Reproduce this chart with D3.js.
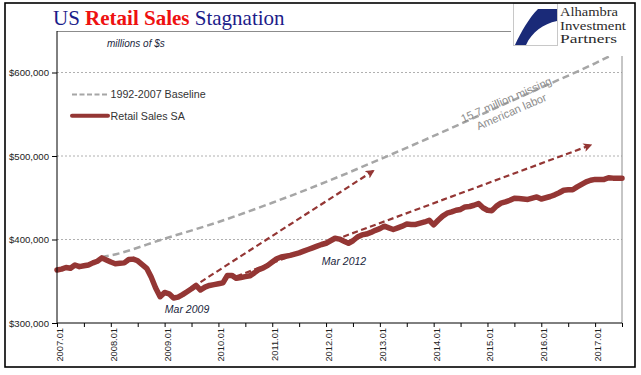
<!DOCTYPE html>
<html><head><meta charset="utf-8">
<script src="https://cdn.jsdelivr.net/npm/d3@7/dist/d3.min.js"></script>
<style>
html,body{margin:0;padding:0;background:#fff;}
svg{display:block;}
</style></head>
<body>
<svg id="chart" width="641" height="375"></svg>
<script>
// ---- data (millions of $) ----
const xTickLabels = ["2007.01","2008.01","2009.01","2010.01","2011.01","2012.01","2013.01","2014.01","2015.01","2016.01","2017.01"];
const yTickValues = [300000, 400000, 500000, 600000];
// Retail Sales SA, monthly Jan 2007 .. Jul 2017
const sales = [
  363500,364500,366500,365500,369500,367500,368500,369500,372000,374000,378000,375500,
  373000,371000,371500,372000,376000,376500,374500,370000,365500,355000,342000,331500,
  336500,335000,330000,331000,334000,337500,341000,345000,339500,343000,345000,346000,
  347000,348000,357000,357000,353500,354500,355500,356500,360000,364000,366000,369000,
  373000,377000,379000,380000,381000,382500,384000,386000,388000,390000,392000,394000,
  395500,398500,401500,400500,398000,395500,398500,403000,405500,406500,408500,411000,
  413000,416000,414000,412000,414000,416000,418500,418000,418000,419500,421000,423000,
  417500,423000,428000,431500,433000,435000,436000,439000,439500,441000,443000,438000,
  435000,434500,440000,443500,445000,447000,449500,449000,448500,448000,449500,451000,
  448500,450000,451500,453500,456000,459000,459500,459500,463000,466000,469000,471000,
  472000,472000,472000,474000,473500,473500,473500
];
// 1992-2007 baseline trend (month index from Jan 2007, value)
const baselineMonths = [10, 12, 24, 36, 48, 60, 72, 84, 96, 108, 120, 126];
const baselineValues = [379000, 381000, 401000, 421000, 444000, 469000, 496000, 524000, 553000, 582000, 611000, 627000];
// dashed arrows: [startMonth, endMonth] and [startValue, endValue]
const arrowMonths = [[32, 70.5], [40, 119]];
const arrowValues = [[349000, 482000], [356000, 513000]];
const annotations = [{text:"Mar 2009", m:29, v:312000}, {text:"Mar 2012", m:64, v:370000}];
const logoLines = ["Alhambra", "Investment", "Partners"];

// ---- layout ----
const svg = d3.select("#chart");
const L = 57, R = 622, T = 31, B = 323;
const x = d3.scaleLinear().domain([0, 126]).range([L, R]);
const y = d3.scaleLinear().domain([300000, 650000]).range([B, 30.75]);
const red = "#943634", grey = "#a6a6a6";

// grid
svg.append("g").selectAll("line").data(yTickValues.slice(1)).join("line")
  .attr("x1", L).attr("x2", R).attr("y1", d => y(d)).attr("y2", d => y(d))
  .attr("stroke", "#b0b0b0").attr("stroke-width", 1).attr("stroke-dasharray", "2,2");

// plot frame top/right
svg.append("line").attr("x1", L).attr("x2", R).attr("y1", T + 0.5).attr("y2", T + 0.5).attr("stroke", "#8c8c8c");
svg.append("line").attr("x1", R).attr("x2", R).attr("y1", T).attr("y2", B).attr("stroke", "#8c8c8c");

// baseline
const line = d3.line().x(d => x(d[0])).y(d => y(d[1])).curve(d3.curveMonotoneX);
svg.append("path").datum(baselineMonths.map((m, i) => [m, baselineValues[i]]))
  .attr("d", line).attr("fill", "none").attr("stroke", grey).attr("stroke-width", 2.5)
  .attr("stroke-dasharray", "7,4");

// arrows
const defs = svg.append("defs");
defs.append("marker").attr("id", "ah").attr("viewBox", "0 0 10 10").attr("refX", 8).attr("refY", 5)
  .attr("markerWidth", 4).attr("markerHeight", 4).attr("orient", "auto").attr("markerUnits", "strokeWidth")
  .append("path").attr("d", "M0,0 L10,5 L0,10 L2.5,5 Z").attr("fill", red);
svg.append("g").selectAll("line").data(arrowMonths).join("line")
  .attr("x1", d => x(d[0])).attr("x2", d => x(d[1]))
  .attr("y1", (d, i) => y(arrowValues[i][0])).attr("y2", (d, i) => y(arrowValues[i][1]))
  .attr("stroke", red).attr("stroke-width", 2.2).attr("stroke-dasharray", "6,3.5")
  .attr("marker-end", "url(#ah)");

// sales line
svg.append("path").datum(sales)
  .attr("d", d3.line().x((d, i) => x(i)).y(d => y(d)))
  .attr("fill", "none").attr("stroke", red).attr("stroke-width", 5.5)
  .attr("stroke-linejoin", "round").attr("stroke-linecap", "round");

// annotations
svg.append("g").selectAll("text").data(annotations).join("text")
  .attr("x", d => x(d.m)).attr("y", d => y(d.v)).attr("text-anchor", "middle")
  .attr("font-family", "Liberation Sans, Arial, sans-serif").attr("font-style", "italic")
  .attr("font-size", 10.5).attr("fill", "#1a1f3d").text(d => d.text);

const lab = svg.append("g").attr("transform", "translate(509,106) rotate(-23.5)")
  .attr("font-family", "Liberation Sans, Arial, sans-serif").attr("font-size", 11.2).attr("fill", "#8c8c8c")
  .attr("text-anchor", "middle");
lab.append("text").attr("x", 0).attr("y", -3).text("15.7 million missing");
lab.append("text").attr("x", 0).attr("y", 10).text("American labor");

// axes
const yAxis = d3.axisLeft(y).tickValues(yTickValues).tickSize(5).tickPadding(3)
  .tickFormat(d => "$" + d3.format(",")(d));
const gy = svg.append("g").attr("transform", `translate(${L},0)`).call(yAxis);
gy.select(".domain").attr("stroke", "#000").attr("d", `M0,${T}V${B}`);
gy.selectAll("text").attr("font-family", "Liberation Sans, Arial, sans-serif").attr("font-size", 9.6).attr("fill", "#222");

const majorTicks = xTickLabels.map((_, i) => i * 12);
const minorTicks = xTickLabels.map((_, i) => i * 12 + 6);
const xAxis = d3.axisBottom(x).tickValues(majorTicks.concat(minorTicks)).tickSize(4)
  .tickFormat(d => (d % 12 === 0 ? xTickLabels[d / 12] : ""));
const gx = svg.append("g").attr("transform", `translate(0,${B})`).call(xAxis);
gx.select(".domain").attr("stroke", "#000").attr("d", `M${L},0H${R}`);
gx.selectAll("line").attr("stroke", "#000");
gx.selectAll("text").attr("font-family", "Liberation Sans, Arial, sans-serif").attr("font-size", 9.3)
  .attr("fill", "#222").attr("text-anchor", "end").attr("dy", 0)
  .attr("transform", "translate(5.5,-2) rotate(-90)").attr("x", -7).attr("y", 0);

// legend
const lg = svg.append("g").attr("font-family", "Liberation Sans, Arial, sans-serif").attr("font-size", 10.7).attr("fill", "#333");
lg.append("line").attr("x1", 72).attr("x2", 107).attr("y1", 94.5).attr("y2", 94.5)
  .attr("stroke", grey).attr("stroke-width", 2.2).attr("stroke-dasharray", "5,2.5");
lg.append("text").attr("x", 110.5).attr("y", 98.2).text("1992-2007 Baseline");
lg.append("line").attr("x1", 72).attr("x2", 108).attr("y1", 115.7).attr("y2", 115.7)
  .attr("stroke", red).attr("stroke-width", 4).attr("stroke-linecap", "round");
lg.append("text").attr("x", 110.5).attr("y", 119.5).text("Retail Sales SA");

// subtitle
svg.append("text").attr("x", 107).attr("y", 46.5).attr("font-family", "Liberation Sans, Arial, sans-serif")
  .attr("font-style", "italic").attr("font-size", 10).attr("fill", "#1a1f3d").text("millions of $s");

// title
const title = svg.append("text").attr("x", 53).attr("y", 25).attr("font-family", "Liberation Serif, Times New Roman, serif")
  .attr("font-size", 21);
title.append("tspan").attr("fill", "#1c1c8a").text("US ");
title.append("tspan").attr("fill", "#ee1111").attr("font-weight", "bold").text("Retail Sales");
title.append("tspan").attr("fill", "#1c1c8a").text(" Stagnation");

// logo
svg.append("rect").attr("x", 511).attr("y", 4).attr("width", 122).attr("height", 52).attr("fill", "#fff");
svg.append("rect").attr("x", 513.5).attr("y", 3.5).attr("width", 44).attr("height", 42).attr("fill", "#fff").attr("stroke", "#c8c8c8");
svg.append("path").attr("d", "M538,9 L557,9 L557,21 C543,24 532,32 526,45 L515,45 C521,32 529,18 538,9 Z").attr("fill", "#1a2a78");
const logoLengths = [58, 66, 57];
const lt = svg.append("g").attr("font-family", "Liberation Serif, Times New Roman, serif").attr("font-size", 12.5).attr("fill", "#2a2a2a");
logoLines.forEach((t, i) => lt.append("text").attr("x", 560).attr("y", 16 + i * 13.5)
  .attr("textLength", logoLengths[i]).attr("lengthAdjust", "spacingAndGlyphs").text(t));

// outer frame
svg.append("rect").attr("x", 5).attr("y", 3).attr("width", 630).attr("height", 364)
  .attr("fill", "none").attr("stroke", "#000").attr("stroke-width", 1.6);
</script>
</body></html>
